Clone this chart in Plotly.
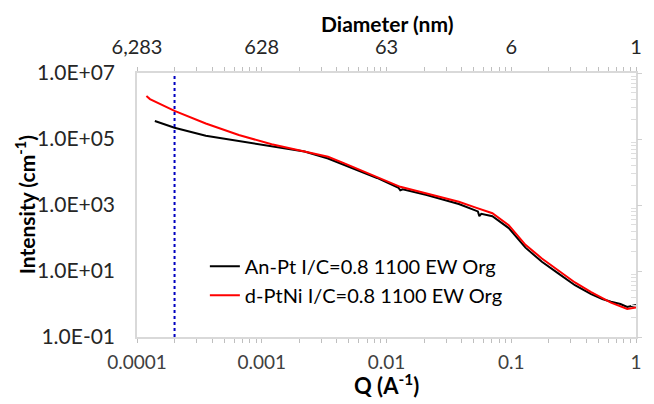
import numpy as np
import plotly.graph_objects as go

# ---- data ----
q_anpt = [1.39e-4, 2.0e-4, 3.56e-4, 6.55e-4, 1.2e-3, 2.2e-3, 3.4e-3, 4.6e-3, 8.4e-3,
          0.0125, 0.0129, 0.0135, 0.021, 0.038, 0.052, 0.054, 0.0555, 0.0575, 0.0706,
          0.0955, 0.13, 0.176, 0.238, 0.324, 0.437, 0.537, 0.63, 0.75, 0.85, 1.0]
i_anpt = [3.5e5, 2.2e5, 1.26e5, 8.7e4, 5.9e4, 4.17e4, 2.57e4, 1.62e4, 6.6e3,
          3.3e3, 2.8e3, 3.0e3, 2.0e3, 1.07e3, 660, 640, 460, 540, 457,
          200, 51, 19, 8.5, 3.7, 2.0, 1.41, 1.17, 1.0, 0.81, 0.93]

q_dptni = [1.19e-4, 1.27e-4, 2.0e-4, 3.56e-4, 6.55e-4, 1.2e-3, 2.2e-3, 3.4e-3, 4.6e-3,
           8.4e-3, 0.0129, 0.021, 0.038, 0.052, 0.0706, 0.0955, 0.13, 0.176, 0.238,
           0.324, 0.437, 0.537, 0.63, 0.85, 1.0]
i_dptni = [2.0e6, 1.62e6, 7.1e5, 2.95e5, 1.32e5, 6.9e4, 4.17e4, 2.9e4, 1.82e4,
           7.2e3, 3.55e3, 2.24e3, 1.26e3, 830, 562, 245, 62, 24, 10.7,
           4.5, 2.3, 1.5, 1.1, 0.71, 0.79]

series_names = ["An-Pt I/C=0.8 1100 EW Org", "d-PtNi I/C=0.8 1100 EW Org"]
series_colors = ["#000000", "#ff0000"]

q_ticks = [1e-4, 1e-3, 1e-2, 1e-1, 1]
q_tick_labels = ["0.0001", "0.001", "0.01", "0.1", "1"]
i_ticks = [1e7, 1e5, 1e3, 1e1, 1e-1]
i_tick_labels = ["1.0E+07", "1.0E+05", "1.0E+03", "1.0E+01", "1.0E-01"]
diam_labels = [f"{2 * np.pi / q / 10:,.0f}" for q in q_ticks]  # 2*pi/Q (A) -> nm

cutoff_q = 2e-4
cutoff_i = [1e-1, 1e7]

x_title = "Q (A<sup>-1</sup>)"
x2_title = "Diameter (nm)"
y_title = "Intensity (cm<sup>-1</sup>)"

FONT = "Lato"
minor_x = [m * 10.0 ** e for e in range(-4, 0) for m in range(2, 10)]
minor_y2 = [m * 10.0 ** e for e in range(0, 4) for m in range(2, 10)]

fig = go.Figure()
for q, i, name, col in zip([q_anpt, q_dptni], [i_anpt, i_dptni], series_names, series_colors):
    fig.add_trace(go.Scatter(x=q, y=i, mode="lines", name=name,
                             line=dict(color=col, width=2)))

fig.add_trace(go.Scatter(x=[cutoff_q, cutoff_q], y=cutoff_i, mode="lines", showlegend=False,
                         line=dict(color="#0000c0", width=2, dash="dot"), hoverinfo="skip"))
# invisible trace to activate the top (diameter) axis and the right tick axis
fig.add_trace(go.Scatter(x=q_anpt, y=i_anpt, xaxis="x2", yaxis="y2", mode="lines",
                         line=dict(width=0), opacity=0, showlegend=False, hoverinfo="skip"))

axis_common = dict(type="log", range=[-4, 0], showgrid=False, zeroline=False,
                   showline=True, linecolor="#d9d9d9", linewidth=1.5,
                   ticks="outside", ticklen=4, tickcolor="#bfbfbf",
                   tickvals=q_ticks,
                   minor=dict(tickvals=minor_x, ticks="outside", ticklen=4, tickcolor="#bfbfbf"))

# the page body adds an 8px offset, so the figure is 8px smaller in each direction
fig.update_layout(
    width=646, height=396,
    margin=dict(l=129, r=12, t=65, b=67),
    paper_bgcolor="white", plot_bgcolor="white",
    font=dict(family=FONT, color="#000000"),
    xaxis=dict(**axis_common, ticktext=q_tick_labels, ticklabelstandoff=3,
               tickfont=dict(family=FONT, size=19, color="#404040")),
    xaxis2=dict(**axis_common, ticktext=diam_labels, overlaying="x", side="top",
                ticklabelstandoff=5,
                tickfont=dict(family=FONT, size=20, color="#262626")),
    yaxis=dict(type="log", range=[-1, 7], showgrid=False, zeroline=False,
               showline=True, mirror=True, linecolor="#d9d9d9", linewidth=1.5,
               ticks="", tickvals=i_ticks, ticktext=i_tick_labels, ticklabelstandoff=16,
               tickfont=dict(family=FONT, size=21, color="#262626")),
    yaxis2=dict(type="log", range=[0, 4], overlaying="y", side="right", showgrid=False,
                zeroline=False, showline=False, showticklabels=False,
                ticks="outside", ticklen=5, tickcolor="#d0d0d0",
                tickvals=[1, 10, 100, 1000, 10000],
                minor=dict(tickvals=minor_y2, ticks="inside", ticklen=5, tickcolor="#dedede")),
    legend=dict(x=0.136, y=0.342, xanchor="left", yanchor="top",
                bgcolor="rgba(0,0,0,0)", font=dict(family=FONT, size=20, color="#000000"),
                itemwidth=30, tracegroupgap=0),
    showlegend=True,
    annotations=[
        dict(text=x2_title, xref="paper", yref="paper", x=0.5, y=1.244, xanchor="center",
             yanchor="top", showarrow=False,
             font=dict(family=FONT, size=21, weight="bold", color="#000000")),
        dict(text=x_title, xref="paper", yref="paper", x=0.5, y=-0.244, xanchor="center",
             yanchor="bottom", showarrow=False,
             font=dict(family=FONT, size=22, weight="bold", color="#000000")),
        dict(text=y_title, xref="paper", yref="paper", x=-0.224, y=0.5, xanchor="center",
             yanchor="middle", textangle=-90, showarrow=False,
             font=dict(family=FONT, size=21, weight="bold", color="#000000")),
    ],
)

fig.write_html("out.html")
